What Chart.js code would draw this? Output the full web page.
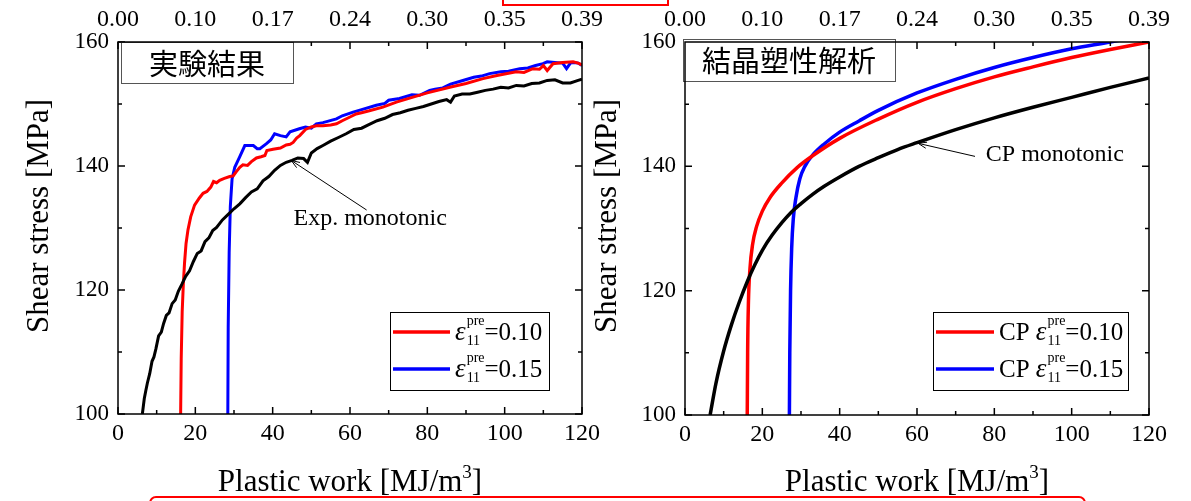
<!DOCTYPE html>
<html>
<head>
<meta charset="utf-8">
<script src="https://cdn.jsdelivr.net/npm/chart.js@4.4.0/dist/chart.umd.min.js"></script>
<style>
  body { margin: 0; background: #fff; width: 1191px; height: 501px; overflow: hidden; position: relative; }
  .panel { position: absolute; top: 0; height: 501px; }
  #leftPanel { left: 0; width: 610px; }
  #rightPanel { left: 580px; width: 611px; }
  .redbox { position: absolute; border: 2px solid #ff0000; box-sizing: border-box; }
  #redTop { left: 502px; top: -20px; width: 167px; height: 26px; }
  #redBottom { left: 149px; top: 496px; width: 937px; height: 30px; border-radius: 7px; }
</style>
</head>
<body>
<div class="redbox" id="redTop"></div>
<div class="panel" id="leftPanel"><canvas id="chartExp"></canvas></div>
<div class="panel" id="rightPanel"><canvas id="chartCP"></canvas></div>
<div class="redbox" id="redBottom"></div>
<script>
// 軸
const xRange = [0, 120];
const yRange = [100, 160];
const xTickStep = 20;
const yTickStep = 20;
const topTickLabels = ['0.00', '0.10', '0.17', '0.24', '0.30', '0.35', '0.39'];
const preStrains = ['0.10', '0.15'];

// 実験結果 (Exp.)
const expMonoX = [6.3, 6.8, 7.2, 7.6, 8.2, 8.8, 9.3, 9.8, 10.5, 11.2, 11.8, 12.5, 13.2, 14, 14.8, 15.6, 16.5, 17.5, 18.5, 19.5, 20.5, 21.5, 22.5, 23.5, 24.5, 25.5, 27, 28.5, 30, 31.5, 33, 34.5, 36, 37.5, 39, 40.5, 42, 43.5, 45, 46.5, 48, 49, 50, 51.5, 53, 55, 57, 59, 61, 63, 65, 67, 69, 71, 73, 75, 77, 79, 81, 83, 85, 86, 87, 89, 91, 93, 95, 97, 99, 101, 103, 105, 107, 109, 111, 113, 115, 117, 119, 120];
const expMonoY = [100, 102.5, 103.8, 105, 106.5, 108.5, 109.2, 110.5, 112.6, 113.2, 114.6, 115.9, 116.3, 117.8, 118.4, 119.8, 120.9, 122.2, 123.1, 124.6, 125.9, 126.3, 127.8, 128.4, 129.6, 130.1, 131.3, 132.2, 133.1, 133.9, 134.9, 135.8, 136.3, 137.6, 138.3, 139.3, 140.1, 140.6, 140.9, 141.3, 141.2, 140.6, 142.1, 142.8, 143.3, 144.0, 144.6, 145.2, 145.9, 146.1, 146.7, 147.3, 147.7, 148.3, 148.6, 149.0, 149.3, 149.6, 150.0, 150.4, 150.7, 150.3, 151.3, 151.6, 151.6, 151.9, 152.2, 152.4, 152.7, 152.6, 153.0, 152.9, 153.3, 153.4, 153.8, 153.9, 153.4, 153.4, 153.8, 154.0];

const expPre10X = [16.2, 16.35, 16.6, 16.9, 17.2, 17.6, 18.1, 18.8, 19.8, 21, 22, 23, 24, 24.7, 25.5, 26.3, 27.5, 28.9, 29.8, 30.6, 31.5, 32.3, 33.5, 34.5, 35.8, 37, 38, 38.5, 40.1, 42, 43.5, 44.5, 45.3, 46.2, 47, 48.5, 50, 51.3, 53, 55, 56.5, 58, 60, 61.6, 63, 65, 68.5, 72, 76.3, 80, 85.8, 90, 94.4, 98, 103, 105, 107.3, 109, 110, 111, 112.5, 115, 117.7, 119, 120];
const expPre10Y = [100, 109, 116.5, 121, 124.3, 127.5, 129.7, 131.8, 133.7, 134.8, 135.6, 135.9, 136.6, 137.5, 137.3, 137.7, 138, 138.3, 138.4, 139.1, 139.8, 140.2, 140.1, 140.7, 141.3, 141.5, 141.7, 142.5, 142.7, 142.9, 143.4, 143.5, 143.8, 144.5, 144.9, 145.9, 146.3, 146.5, 146.5, 146.6, 146.8, 147.3, 147.9, 148.4, 148.6, 148.9, 149.5, 150.3, 151.1, 151.8, 152.7, 153.3, 154.1, 154.6, 155.2, 155.1, 155.7, 155.6, 156.2, 155.4, 156.5, 156.7, 156.8, 156.6, 156.3];

const expPre15X = [28.4, 28.5, 28.75, 29.05, 29.5, 30.2, 31.5, 32.8, 33.5, 35, 36, 36.7, 38.4, 39.5, 40.5, 42, 43.5, 44.5, 46.9, 48.5, 50, 51.3, 53, 56.5, 58, 60.8, 63, 66.8, 69, 70, 72.8, 76, 78, 80.6, 82, 84, 86, 89.2, 92, 94, 96.1, 99, 101, 103.9, 106, 108, 109.9, 111, 113, 115, 116, 117, 118, 119, 120];
const expPre15Y = [100, 114, 126, 133.5, 137.9, 139.8, 141.5, 143.3, 143.3, 143.3, 142.8, 142.8, 143.6, 144.2, 145.2, 144.9, 144.7, 145.5, 146, 146.3, 146.1, 146.8, 147, 147.6, 148.1, 148.7, 149.1, 149.8, 150.1, 150.6, 150.9, 151.5, 151.4, 152.2, 152.4, 152.6, 153.2, 153.8, 154.3, 154.5, 154.9, 155.2, 155.3, 155.7, 155.8, 156.2, 156.5, 156.8, 156.7, 156.6, 155.7, 156.6, 156.7, 156.6, 156.2];

// 結晶塑性解析 (CP)
const cpMonoX = [6.5, 8, 10, 12, 14, 16.2, 18, 20, 22.5, 25, 27.3, 30, 33, 36, 40, 45, 50, 55, 60, 70, 80, 90, 100, 110, 120];
const cpMonoY = [100, 105.1, 110.3, 114.5, 118.1, 121.6, 124.1, 126.5, 128.9, 130.9, 132.5, 134.0, 135.5, 136.8, 138.3, 140.0, 141.4, 142.7, 143.8, 145.9, 147.8, 149.5, 151.1, 152.7, 154.2];

const cpPre10X = [16.1, 16.2, 16.4, 16.8, 17.5, 18.5, 20, 22, 25, 29, 33, 40, 50, 60, 70, 80, 90, 100, 110, 120];
const cpPre10Y = [100, 110, 118, 123.5, 127.5, 130.3, 132.8, 135, 137.3, 139.8, 141.7, 144.5, 147.6, 150.3, 152.5, 154.4, 156, 157.5, 158.8, 160];

const cpPre15X = [27, 27.1, 27.3, 27.6, 28, 28.7, 29.7, 31, 33, 36, 40, 45, 50, 60, 70, 80, 90, 100, 110, 120];
const cpPre15Y = [100, 110, 120, 127, 131.5, 135, 138, 140, 141.8, 143.6, 145.5, 147.3, 149, 151.8, 154, 155.9, 157.5, 158.9, 160, 161.2];

const SERIF = '"Liberation Serif", "Times New Roman", serif';
const CJK = '"Noto Sans CJK JP", "Noto Sans CJK SC", sans-serif';

const toPoints = (xs, ys) => xs.map((x, i) => ({ x: x, y: ys[i] }));

function line(label, xs, ys, color, smooth, legendIdx) {
    return {
        label: label,
        data: toPoints(xs, ys),
        borderColor: color,
        backgroundColor: color,
        borderWidth: smooth ? 3.5 : 3,
        pointRadius: 0,
        fill: false,
        tension: 0,
        cubicInterpolationMode: smooth ? 'monotone' : 'default',
        clip: 0,
        legendIdx: legendIdx
    };
}

// 目盛り・枠・注記・凡例
const decorPlugin = {
    id: 'decor',
    afterDraw(chart, args, o) {
        const { ctx, chartArea: a, scales } = chart;
        const xs = scales.x, ys = scales.y;
        ctx.save();
        ctx.strokeStyle = '#000';
        ctx.lineWidth = 1.5;

        // inward ticks
        ctx.beginPath();
        for (let v = xRange[0]; v <= xRange[1]; v += xTickStep / 2) {
            const p = xs.getPixelForValue(v);
            const len = v % xTickStep === 0 ? 7 : 4;
            ctx.moveTo(p, a.bottom); ctx.lineTo(p, a.bottom - len);
            ctx.moveTo(p, a.top); ctx.lineTo(p, a.top + len);
        }
        for (let v = yRange[0]; v <= yRange[1]; v += yTickStep / 2) {
            const p = ys.getPixelForValue(v);
            const len = v % yTickStep === 0 ? 7 : 4;
            ctx.moveTo(a.left, p); ctx.lineTo(a.left + len, p);
            ctx.moveTo(a.right, p); ctx.lineTo(a.right - len, p);
        }
        ctx.stroke();

        // title box
        const tb = o.titleBox;
        ctx.fillStyle = '#fff';
        ctx.fillRect(a.left + tb.dx, a.top + tb.dy, tb.w, tb.h);
        ctx.strokeStyle = '#555';
        ctx.lineWidth = 1;
        ctx.strokeRect(a.left + tb.dx + 0.5, a.top + tb.dy + 0.5, tb.w, tb.h);
        ctx.fillStyle = '#000';
        ctx.font = '29px ' + CJK;
        ctx.textAlign = 'center';
        ctx.textBaseline = 'middle';
        ctx.fillText(tb.text, a.left + tb.dx + tb.w / 2, a.top + tb.dy + tb.h / 2 + 1);

        // frame
        ctx.strokeStyle = '#000';
        ctx.lineWidth = 1.5;
        ctx.strokeRect(a.left, a.top, a.width, a.height);

        // arrow + label
        const ar = o.arrow;
        const x0 = xs.getPixelForValue(ar.from[0]), y0 = ys.getPixelForValue(ar.from[1]);
        const x1 = xs.getPixelForValue(ar.to[0]), y1 = ys.getPixelForValue(ar.to[1]);
        ctx.lineWidth = 1;
        ctx.beginPath();
        ctx.moveTo(x0, y0); ctx.lineTo(x1, y1);
        const ang = Math.atan2(y1 - y0, x1 - x0);
        ctx.moveTo(x1 - 9 * Math.cos(ang - 0.35), y1 - 9 * Math.sin(ang - 0.35));
        ctx.lineTo(x1, y1);
        ctx.lineTo(x1 - 9 * Math.cos(ang + 0.35), y1 - 9 * Math.sin(ang + 0.35));
        ctx.stroke();
        ctx.font = '24px ' + SERIF;
        ctx.textAlign = 'left';
        ctx.textBaseline = 'alphabetic';
        ctx.fillText(ar.text, xs.getPixelForValue(ar.textAt[0]), ys.getPixelForValue(ar.textAt[1]));

        // legend
        const lg = o.legend;
        const bx = a.right - lg.right - lg.w, by = a.bottom - lg.bottom - lg.h;
        ctx.fillStyle = '#fff';
        ctx.fillRect(bx, by, lg.w, lg.h);
        ctx.strokeStyle = '#000';
        ctx.lineWidth = 1;
        ctx.strokeRect(bx + 0.5, by + 0.5, lg.w, lg.h);
        chart.data.datasets.filter(d => d.legendIdx !== undefined).forEach(d => {
            const ly = by + 20 + d.legendIdx * 37;
            ctx.strokeStyle = d.borderColor;
            ctx.lineWidth = 3.5;
            ctx.beginPath();
            ctx.moveTo(bx + 3, ly); ctx.lineTo(bx + 3 + lg.lineLen, ly);
            ctx.stroke();
            let tx = bx + 3 + lg.lineLen + 5;
            const base = ly + 8;
            ctx.fillStyle = '#000';
            ctx.textAlign = 'left';
            ctx.textBaseline = 'alphabetic';
            ctx.font = '25px ' + SERIF;
            if (lg.prefix) {
                ctx.fillText(lg.prefix, tx, base);
                tx += ctx.measureText(lg.prefix).width;
            }
            ctx.font = 'italic 27px ' + SERIF;
            ctx.fillText('\u03b5', tx, base);
            tx += ctx.measureText('\u03b5').width + 1;
            ctx.font = '14px ' + SERIF;
            ctx.fillText('pre', tx, ly - 7);
            ctx.fillText('11', tx, ly + 13);
            tx += Math.max(ctx.measureText('pre').width, ctx.measureText('11').width);
            ctx.font = '25px ' + SERIF;
            ctx.fillText('=' + d.label, tx, base);
        });

        // axis titles
        ctx.fillStyle = '#000';
        ctx.font = '31px ' + SERIF;
        const cx = (a.left + a.right) / 2;
        const t1 = 'Plastic work [MJ/m', t2 = ']';
        const w1 = ctx.measureText(t1).width, w2 = ctx.measureText(t2).width;
        ctx.font = '19px ' + SERIF;
        const w3 = ctx.measureText('3').width;
        let sx = cx - (w1 + w2 + w3) / 2;
        ctx.font = '31px ' + SERIF;
        ctx.textAlign = 'left';
        ctx.fillText(t1, sx, 491);
        ctx.font = '19px ' + SERIF;
        ctx.fillText('3', sx + w1, 478);
        ctx.font = '31px ' + SERIF;
        ctx.fillText(t2, sx + w1 + w3, 491);

        ctx.translate(o.yTitleX, 216);
        ctx.rotate(-Math.PI / 2);
        ctx.textAlign = 'center';
        ctx.textBaseline = 'middle';
        ctx.fillText('Shear stress [MPa]', 0, 0);
        ctx.restore();
    }
};

function makeScales(g) {
    const xFont = { family: SERIF, size: 24 };
    const yFont = { family: SERIF, size: 23 };
    const base = {
        type: 'linear',
        grid: { display: false, drawTicks: false },
        border: { display: false }
    };
    return {
        x: Object.assign({}, base, {
            position: 'bottom', min: xRange[0], max: xRange[1],
            ticks: { stepSize: xTickStep, font: xFont, color: '#000', padding: 5, maxRotation: 0, autoSkip: false },
            afterFit(s) { s.height = g.bottom; s.paddingLeft = 0; s.paddingRight = 0; }
        }),
        xTop: Object.assign({}, base, {
            position: 'top', min: xRange[0], max: xRange[1],
            ticks: { stepSize: xTickStep, font: xFont, color: '#000', padding: 8, maxRotation: 0, autoSkip: false,
                     callback: (v, i) => topTickLabels[i] },
            afterFit(s) { s.height = g.top; s.paddingLeft = 0; s.paddingRight = 0; }
        }),
        y: Object.assign({}, base, {
            position: 'left', min: yRange[0], max: yRange[1],
            ticks: { stepSize: yTickStep, font: yFont, color: '#000', padding: 9 },
            afterFit(s) { s.width = g.left; s.paddingTop = 0; s.paddingBottom = 0; }
        }),
        yRight: Object.assign({}, base, {
            position: 'right', min: yRange[0], max: yRange[1],
            ticks: { display: false },
            afterFit(s) { s.width = g.right; s.paddingTop = 0; s.paddingBottom = 0; }
        })
    };
}

function makeChart(id, datasets, g, decor) {
    return new Chart(document.getElementById(id).getContext('2d'), {
        type: 'line',
        data: { datasets: datasets },
        options: {
            responsive: true,
            maintainAspectRatio: false,
            animation: false,
            layout: { padding: 0 },
            plugins: { legend: { display: false }, tooltip: { enabled: false }, decor: decor },
            scales: makeScales(g)
        },
        plugins: [decorPlugin]
    });
}

makeChart('chartExp', [
    line('mono', expMonoX, expMonoY, '#000000', false),
    line(preStrains[0], expPre10X, expPre10Y, '#ff0000', false, 0),
    line(preStrains[1], expPre15X, expPre15Y, '#0000ff', false, 1)
], { left: 118, right: 28, top: 42, bottom: 87 }, {
    titleBox: { text: '実験結果', dx: 3, dy: 0, w: 172, h: 41 },
    arrow: { from: [64.3, 132.9], to: [44.8, 140.9], text: 'Exp. monotonic', textAt: [45.4, 130.5] },
    legend: { right: 33, bottom: 24, w: 159, h: 78, lineLen: 57, prefix: '' },
    yTitleX: 40
});

makeChart('chartCP', [
    line('mono', cpMonoX, cpMonoY, '#000000', true),
    line(preStrains[0], cpPre10X, cpPre10Y, '#ff0000', true, 0),
    line(preStrains[1], cpPre15X, cpPre15Y, '#0000ff', true, 1)
], { left: 105, right: 42, top: 42, bottom: 86 }, {
    titleBox: { text: '結晶塑性解析', dx: -2, dy: -3, w: 212, h: 42 },
    arrow: { from: [75, 141.6], to: [60.3, 143.7], text: 'CP monotonic', textAt: [77.8, 140.9] },
    legend: { right: 21, bottom: 25, w: 195, h: 78, lineLen: 58, prefix: 'CP ' },
    yTitleX: 28
});
</script>
</body>
</html>
